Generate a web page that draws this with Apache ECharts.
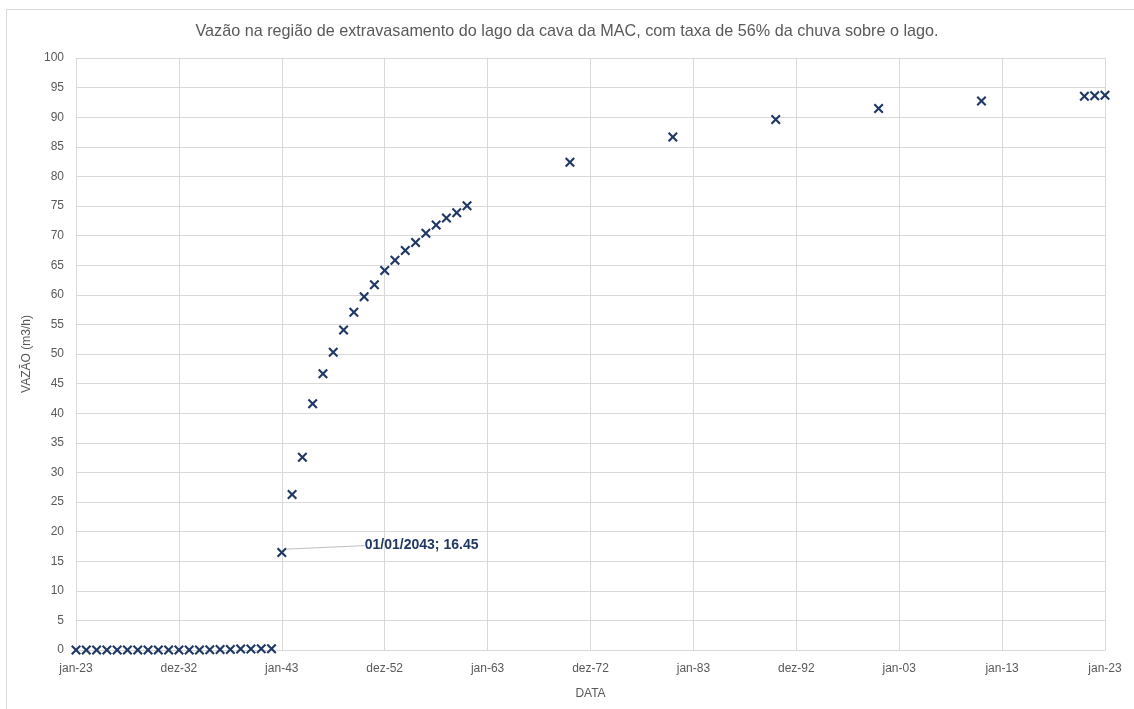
<!DOCTYPE html>
<html>
<head>
<meta charset="utf-8">
<script src="https://cdn.jsdelivr.net/npm/echarts@6/dist/echarts.min.js"></script>
<style>
html,body{margin:0;padding:0;background:#fff;}
#chart{width:1134px;height:709px;}
</style>
</head>
<body>
<div id="chart"></div>
<script>
const TITLE = 'Vazão na região de extravasamento do lago da cava da MAC, com taxa de 56% da chuva sobre o lago.';
const X_NAME = 'DATA';
const Y_NAME = 'VAZÃO (m3/h)';

const dates = [
  '2023-01-01','2024-01-01','2025-01-01','2026-01-01','2027-01-01','2028-01-01','2029-01-01','2030-01-01',
  '2031-01-01','2032-01-01','2033-01-01','2034-01-01','2035-01-01','2036-01-01','2037-01-01','2038-01-01',
  '2039-01-01','2040-01-01','2041-01-01','2042-01-01','2043-01-01','2044-01-01','2045-01-01','2046-01-01',
  '2047-01-01','2048-01-01','2049-01-01','2050-01-01','2051-01-01','2052-01-01','2053-01-01','2054-01-01',
  '2055-01-01','2056-01-01','2057-01-01','2058-01-01','2059-01-01','2060-01-01','2061-01-01',
  '2071-01-01','2081-01-01','2091-01-01','2101-01-01','2111-01-01','2121-01-01','2122-01-01','2123-01-01'
];
const flow = [
  0, 0, 0, 0, 0, 0, 0, 0,
  0, 0, 0, 0, 0, 0.05, 0.1, 0.1,
  0.15, 0.15, 0.2, 0.2, 16.45, 26.25, 32.56, 41.6,
  46.65, 50.3, 54.06, 57.04, 59.65, 61.68, 64.1, 65.85,
  67.5, 68.85, 70.4, 71.8, 72.96, 73.88, 75.06,
  82.38, 86.64, 89.6, 91.47, 92.72, 93.55, 93.62, 93.7
];
const xTickLabels = ['jan-23','dez-32','jan-43','dez-52','jan-63','dez-72','jan-83','dez-92','jan-03','jan-13','jan-23'];
const yMin = 0, yMax = 100, yStep = 5;
const labelledIndex = 20;

const DAY = 86400000;
const origin = Date.UTC(2023, 0, 1);
const xStep = 3652.5;
function dayOffset(s) {
  const p = s.split('-').map(Number);
  return (Date.UTC(p[0], p[1] - 1, p[2]) - origin) / DAY;
}
function fmtDate(s) {
  const p = s.split('-');
  return p[2] + '/' + p[1] + '/' + p[0];
}

const FONT = 'Liberation Sans, Arial, sans-serif';
const seriesData = dates.map((d, i) => {
  const item = { value: [dayOffset(d), flow[i]], date: d };
  if (i === labelledIndex) {
    item.label = {
      show: true,
      position: 'right',
      distance: 4,
      formatter: fmtDate(d) + '; ' + flow[i].toFixed(2),
      color: '#1F3864',
      fontWeight: 'bold',
      fontSize: 14,
      fontFamily: FONT
    };
    item.labelLine = { show: true, lineStyle: { color: '#bfbfbf', width: 1 } };
  }
  return item;
});

const X_PATH = 'path://M0,1.5 L1.5,0 L5,3.5 L8.5,0 L10,1.5 L6.5,5 L10,8.5 L8.5,10 L5,6.5 L1.5,10 L0,8.5 L3.5,5 Z';

const chart = echarts.init(document.getElementById('chart'), null, { renderer: 'canvas' });
chart.setOption({
  backgroundColor: '#fff',
  animation: false,
  title: {
    text: TITLE,
    left: 'center',
    top: 19,
    textStyle: { color: '#595959', fontSize: 16.2, fontWeight: 'normal', fontFamily: FONT }
  },
  graphic: [{
    type: 'rect',
    shape: { x: 6.5, y: 9.5, width: 1200, height: 800 },
    style: { fill: 'none', stroke: '#d9d9d9', lineWidth: 1 },
    silent: true
  }],
  grid: { left: 76, right: 29, top: 58, bottom: 59, containLabel: false },
  xAxis: {
    type: 'value',
    min: 0,
    max: xStep * 10,
    interval: xStep,
    name: X_NAME,
    nameLocation: 'middle',
    nameGap: 38,
    nameTextStyle: { color: '#595959', fontSize: 12, fontFamily: FONT },
    axisLine: { show: true, lineStyle: { color: '#d9d9d9', width: 1 } },
    axisTick: { show: false },
    axisLabel: {
      color: '#595959', fontSize: 12, fontFamily: FONT, margin: 13,
      formatter: v => xTickLabels[Math.round(v / xStep)] || ''
    },
    splitLine: { show: true, lineStyle: { color: '#d9d9d9', width: 1 } }
  },
  yAxis: {
    type: 'value',
    min: yMin,
    max: yMax,
    interval: yStep,
    name: Y_NAME,
    nameLocation: 'middle',
    nameGap: 37,
    nameTextStyle: { color: '#595959', fontSize: 12, fontFamily: FONT },
    axisLine: { show: false },
    axisTick: { show: false },
    axisLabel: { color: '#595959', fontSize: 12, fontFamily: FONT, margin: 12 },
    splitLine: { show: true, lineStyle: { color: '#d9d9d9', width: 1 } }
  },
  series: [{
    type: 'scatter',
    symbol: X_PATH,
    symbolSize: 10,
    clip: false,
    itemStyle: { color: '#1F3864', opacity: 1 },
    labelLayout: p => (p.dataIndex === labelledIndex ? { dx: 74, dy: -7 } : {}),
    data: seriesData
  }]
});
</script>
</body>
</html>
